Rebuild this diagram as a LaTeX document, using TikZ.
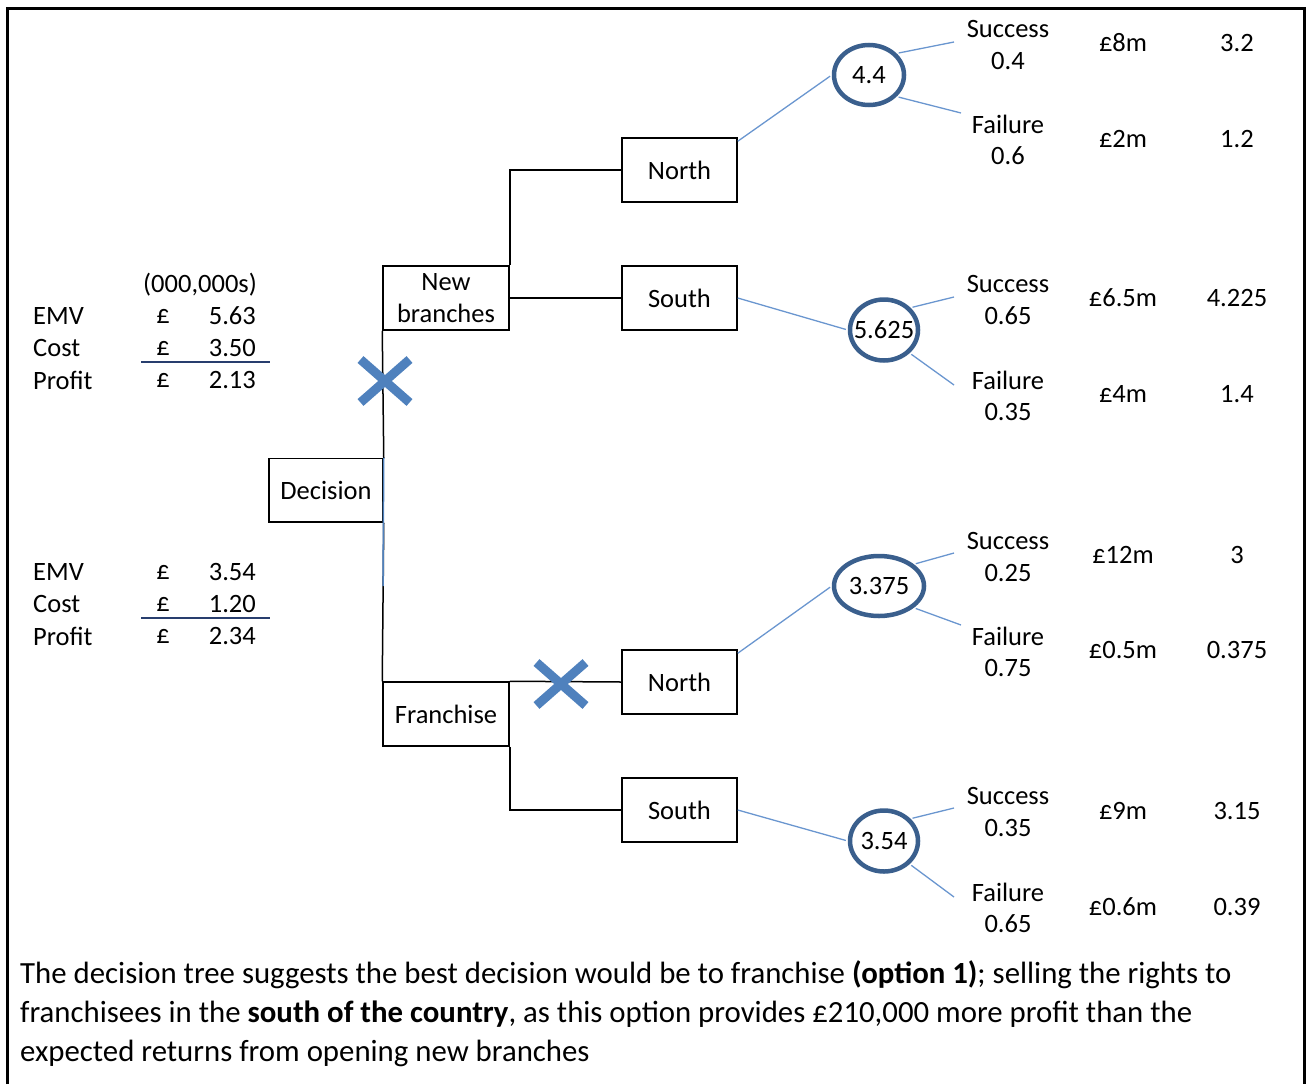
\documentclass[tikz,border=0pt]{standalone}
\usepackage{fontspec}
\setmainfont{Carlito}
\usetikzlibrary{shapes.geometric,shapes.misc}

\definecolor{chanceblue}{RGB}{58,95,141}
\definecolor{linkblue}{RGB}{106,150,207}
\definecolor{crossblue}{RGB}{79,129,189}
\definecolor{rulenavy}{RGB}{40,62,110}

\begin{document}
\begin{tikzpicture}[
  x=1pt,y=-1pt,
  every node/.style={font=\fontsize{26.5}{31.5}\selectfont,inner sep=0pt},
  box/.style={draw,line width=1.5pt,align=center,minimum height=64pt},
  chance/.style={draw=chanceblue,ellipse,line width=4.5pt,inner xsep=-8pt,minimum width=68pt,minimum height=61pt},
  link/.style={line width=1.5pt},
  prob/.style={linkblue,line width=1.3pt},
  rejected/.style={draw=crossblue,cross out,line width=9pt,minimum width=40pt,minimum height=34pt},
  txt/.style={align=center},
  note/.style={anchor=base west,font=\fontsize{30.8}{39}\selectfont}
]
  \useasboundingbox (0,0) rectangle (1308,1084);
  \draw[line width=3pt] (7,1084) -- (7,8) -- (1304,8) -- (1304,1084);

  % decision boxes
  \node[box,minimum width=114pt,minimum height=63.5pt] (dec) at (326,490.25) {Decision};
  \node[box,minimum width=126pt] (nb) at (446,298) {New\\branches};
  \node[box,minimum width=126pt] (fr) at (446,714) {Franchise};
  \node[box,minimum width=115pt] (nN) at (679.5,170) {North};
  \node[box,minimum width=115pt] (nS) at (679.5,298) {South};
  \node[box,minimum width=115pt] (fN) at (679.5,682) {North};
  \node[box,minimum width=115pt] (fS) at (679.5,810) {South};

  \coordinate (bl) at (383,586);
  \draw[link] (dec.north east) -- (nb.south west);
  \draw[link] (dec.south east) -- (fr.north west);
  \draw[link,crossblue] (dec.north east) -- (bl);
  \draw[link] (nb.north east) |- (nN.west);
  \draw[link] (nb.east) -- (nS.west);
  \draw[link] (fr.north east) -- (fN.west);
  \draw[link] (fr.south east) |- (fS.west);

  \node[rejected] (xA) at (385,381) {};
  \node[rejected] (xB) at (561,684) {};

  % chance nodes
  \node[chance,minimum width=70pt,minimum height=60pt] (c1) at (869,75) {4.4};
  \node[chance] (c2) at (884,330) {5.625};
  \node[chance,minimum width=90pt,minimum height=60pt] (c3) at (879,586) {3.375};
  \node[chance] (c4) at (884,841) {3.54};

  \draw[prob,shorten >=2pt] ([yshift=-4pt]nN.north east) -- (c1.west);
  \draw[prob,shorten >=2pt] (nS.east) -- (c2.west);
  \draw[prob,shorten >=2pt] ([yshift=-4pt]fN.north east) -- (c3.west);
  \draw[prob,shorten >=2pt] (fS.east) -- (c4.west);

  \coordinate (s1) at (954,42);  \coordinate (f1) at (961,113);
  \coordinate (s2) at (954,297); \coordinate (f2) at (954,385);
  \coordinate (s3) at (954,553); \coordinate (f3) at (961,625);
  \coordinate (s4) at (954,808); \coordinate (f4) at (954,897);
  \draw[prob,shorten <=2pt] (c1.38) -- (s1);
  \draw[prob,shorten <=2pt] (c1.-38) -- (f1);
  \draw[prob,shorten <=2pt] (c2.40) -- (s2);
  \draw[prob,shorten <=2pt] (c2.-42) -- (f2);
  \draw[prob,shorten <=2pt] (c3.32) -- (s3);
  \draw[prob,shorten <=2pt] (c3.-32) -- (f3);
  \draw[prob,shorten <=2pt] (c4.40) -- (s4);
  \draw[prob,shorten <=2pt] (c4.-42) -- (f4);

  % outcomes
  \node[txt] (sA) at (1008,45) {Success\\0.4};
  \node[txt] (fA) at (1008,140) {Failure\\0.6};
  \node (vsA) at (1123,43) {£8m};
  \node (esA) at (1237,43) {3.2};
  \node (vfA) at (1123,139) {£2m};
  \node (efA) at (1237,139) {1.2};

  \node[txt] (sB) at (1008,300) {Success\\0.65};
  \node[txt] (fB) at (1008,396) {Failure\\0.35};
  \node (vsB) at (1123,298) {£6.5m};
  \node (esB) at (1237,298) {4.225};
  \node (vfB) at (1123,394) {£4m};
  \node (efB) at (1237,394) {1.4};

  \node[txt] (sC) at (1008,557) {Success\\0.25};
  \node[txt] (fC) at (1008,652) {Failure\\0.75};
  \node (vsC) at (1123,555) {£12m};
  \node (esC) at (1237,555) {3};
  \node (vfC) at (1123,650) {£0.5m};
  \node (efC) at (1237,650) {0.375};

  \node[txt] (sD) at (1008,812) {Success\\0.35};
  \node[txt] (fD) at (1008,908) {Failure\\0.65};
  \node (vsD) at (1123,811) {£9m};
  \node (esD) at (1237,811) {3.15};
  \node (vfD) at (1123,907) {£0.6m};
  \node (efD) at (1237,907) {0.39};

  % EMV tables
  \node (unit) at (200,285) {(000,000s)};
  \node[anchor=west] (emvA) at (33,316) {EMV};
  \node (gbpA1) at (163,316) {£};
  \node[anchor=east] (emvAv) at (256,316) {5.63};
  \node[anchor=west] (costA) at (33,348) {Cost};
  \node (gbpA2) at (163,348) {£};
  \node[anchor=east] (costAv) at (256,348) {3.50};
  \draw[link,rulenavy] (141,362) -- (270,362);
  \node[anchor=west] (profA) at (33,380) {Profit};
  \node (gbpA3) at (163,380) {£};
  \node[anchor=east] (profAv) at (256,380) {2.13};

  \node[anchor=west] (emvB) at (33,572) {EMV};
  \node (gbpB1) at (163,572) {£};
  \node[anchor=east] (emvBv) at (256,572) {3.54};
  \node[anchor=west] (costB) at (33,604) {Cost};
  \node (gbpB2) at (163,604) {£};
  \node[anchor=east] (costBv) at (256,604) {1.20};
  \draw[link,rulenavy] (141,618) -- (270,618);
  \node[anchor=west] (profB) at (33,636) {Profit};
  \node (gbpB3) at (163,636) {£};
  \node[anchor=east] (profBv) at (256,636) {2.34};

  % conclusion
  \node[note] (noteA) at (20,983) {The decision tree suggests the best decision would be to franchise \textbf{(option 1)}; selling the rights to};
  \node[note] (noteB) at (20,1022) {franchisees in the \textbf{south of the country}, as this option provides £210,000 more profit than the};
  \node[note] (noteC) at (20,1061) {expected returns from opening new branches};
\end{tikzpicture}
\end{document}
